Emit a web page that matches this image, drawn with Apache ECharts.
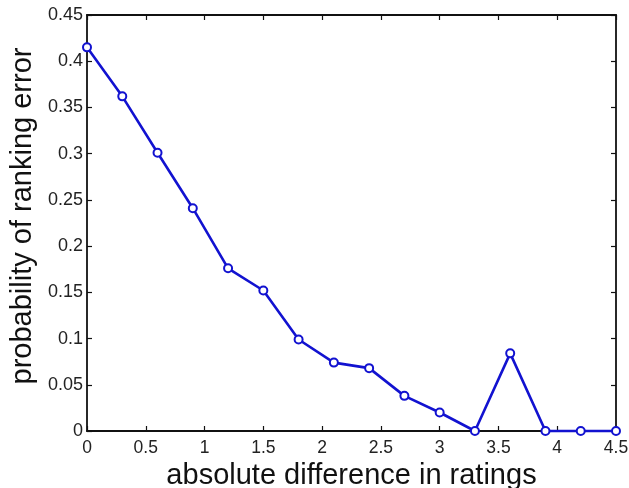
<!DOCTYPE html>
<html><head><meta charset="utf-8">
<script src="https://cdn.jsdelivr.net/npm/echarts@6/dist/echarts.min.js"></script>
<style>html,body{margin:0;padding:0;background:#fff}#c{width:629px;height:488px}</style>
</head><body><div id="c"></div>
<script>
var xValues = [0, 0.3, 0.6, 0.9, 1.2, 1.5, 1.8, 2.1, 2.4, 2.7, 3.0, 3.3, 3.6, 3.9, 4.2, 4.5];
var yValues = [0.415, 0.362, 0.301, 0.241, 0.176, 0.152, 0.099, 0.074, 0.068, 0.038, 0.020, 0, 0.084, 0, 0, 0];
var xTitle = 'absolute difference in ratings';
var yTitle = 'probability of ranking error';

var data = xValues.map(function(x, i){ return [x, yValues[i]]; });
var font = 'Liberation Sans';
var axisLine = {show:true, onZero:false, lineStyle:{color:'#111', width:1.8}};
var tick = {inside:true, length:5, lineStyle:{color:'#111', width:1.2}};
var chart = echarts.init(document.getElementById('c'));
chart.setOption({
  animation:false,
  backgroundColor:'#fff',
  grid:{left:87, right:13, top:15, bottom:57, containLabel:false, outerBoundsMode:'none'},
  xAxis:[{
    type:'value', min:0, max:4.5, interval:0.5,
    axisLine:axisLine, axisTick:tick,
    axisLabel:{color:'#222', fontFamily:font, fontSize:17.5, margin:8},
    splitLine:{show:false},
    name:xTitle, nameLocation:'middle', nameGap:28,
    nameTextStyle:{color:'#111', fontFamily:font, fontSize:29}
  },{
    type:'value', position:'top', min:0, max:4.5, interval:0.5,
    axisLine:axisLine, axisTick:tick,
    axisLabel:{show:false}, splitLine:{show:false}
  }],
  yAxis:[{
    type:'value', min:0, max:0.45, interval:0.05,
    axisLine:axisLine, axisTick:tick,
    axisLabel:{color:'#222', fontFamily:font, fontSize:18, margin:4},
    splitLine:{show:false},
    name:yTitle, nameLocation:'middle', nameGap:41,
    nameTextStyle:{color:'#111', fontFamily:font, fontSize:29, padding:[0,0,0,14]}
  },{
    type:'value', position:'right', min:0, max:0.45, interval:0.05,
    axisLine:axisLine, axisTick:tick,
    axisLabel:{show:false}, splitLine:{show:false}
  }],
  series:[{
    type:'line', data:data, xAxisIndex:0, yAxisIndex:0,
    symbol:'emptyCircle', symbolSize:8,
    lineStyle:{color:'#1212d0', width:2.6},
    itemStyle:{color:'#1212d0', borderWidth:2.2},
    clip:false
  }]
});
</script></body></html>
